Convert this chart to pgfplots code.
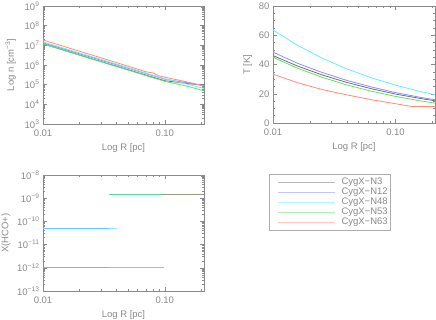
\documentclass[border=0pt]{standalone}
\usepackage{fontspec}
\setmainfont{Liberation Sans}
\usepackage{pgfplots}
\pgfplotsset{compat=1.18}
\definecolor{cN3}{HTML}{707070}
\definecolor{cN12}{HTML}{8C8CFF}
\definecolor{cN48}{HTML}{66EEFF}
\definecolor{cN53}{HTML}{66DD66}
\definecolor{cN63}{HTML}{FF8C7A}
\definecolor{txt}{HTML}{8A8A8A}
\definecolor{xTeal}{HTML}{5CD8A8}
\definecolor{xOlive}{HTML}{929F7E}
\definecolor{xCyanA}{HTML}{60D0FA}
\definecolor{xCyanB}{HTML}{98ECFF}
\definecolor{xTan}{HTML}{BFA878}
\definecolor{xSalmon}{HTML}{FF9E8A}
\pgfplotsset{
  mypanel/.style={
    scale only axis, anchor=south west,
    axis line style={txt, line width=0.6pt},
    tick style={txt, line width=0.5pt},
    major tick length=4pt, minor tick length=2pt,
    tick label style={font=\fontsize{9.5}{11}\selectfont, color=txt},
    label style={font=\fontsize{9.5}{11}\selectfont, color=txt},
    xticklabel style={yshift=-2.5pt},
    xmin=0.01, xmax=0.21,
    xtick={0.01,0.1}, xticklabels={0.01,0.10},
    minor xtick={0.02,0.03,0.04,0.05,0.06,0.07,0.08,0.09,0.2},
    xlabel={Log R [pc]},
  }
}
\begin{document}
\begin{tikzpicture}
\useasboundingbox (0,0) rectangle (436pt,319pt);
% Panel 1: density
\begin{axis}[xmode=log, ymode=log, mypanel, at={(43pt,195pt)}, width=161pt, height=118pt,
  ymin=1e3, ymax=1e9,
  ytick={1e3,1e4,1e5,1e6,1e7,1e8,1e9},
  yticklabels={10\textsuperscript{3},10\textsuperscript{4},10\textsuperscript{5},10\textsuperscript{6},10\textsuperscript{7},10\textsuperscript{8},10\textsuperscript{9}},
  ylabel={Log n [cm\textsuperscript{−3}]}, ylabel style={xshift=0pt,yshift=2pt}]
\addplot[cN3, line width=0.8pt] coordinates {(0.01,1.202e7) (0.0316,1.349e6) (0.1,1.585e5) (0.158,1.122e5) (0.21,9.333e4)};
\addplot[cN12, line width=0.8pt] coordinates {(0.01,1.349e7) (0.0316,1.585e6) (0.1,1.905e5) (0.158,1.202e5) (0.21,8.913e4)};
\addplot[cN48, line width=0.8pt] coordinates {(0.01,1.479e7) (0.0316,1.738e6) (0.1,1.995e5) (0.158,1.0e5) (0.21,6.457e4)};
\addplot[cN53, line width=0.8pt] coordinates {(0.01,1.175e7) (0.0316,1.318e6) (0.1,1.479e5) (0.158,7.943e4) (0.21,4.898e4)};
\addplot[cN63, line width=0.8pt] coordinates {(0.01,1.862e7) (0.0316,2.089e6) (0.0708,4.467e5) (0.0794,3.981e5) (0.0891,2.818e5) (0.1,2.399e5) (0.158,1.318e5) (0.21,8.511e4)};
\end{axis}
% Panel 2: temperature
\begin{axis}[xmode=log, mypanel, at={(273pt,196pt)}, width=162pt, height=117pt,
  ymin=0, ymax=80, ytick={0,20,40,60,80}, yticklabels={0,20,40,60,80},
  minor y tick num=3,
  ylabel={T [K]}]
\addplot[cN3, line width=0.8pt] coordinates {(0.01,46.1) (0.0158,39.0) (0.0251,32.9) (0.0398,27.8) (0.0631,23.5) (0.1,19.8) (0.158,16.8) (0.21,15.2)};
\addplot[cN12, line width=0.8pt] coordinates {(0.01,48.4) (0.0158,40.9) (0.0251,34.6) (0.0398,29.2) (0.0631,24.7) (0.1,20.8) (0.158,17.6) (0.21,15.9)};
\addplot[cN48, line width=0.8pt] coordinates {(0.01,63.6) (0.0158,53.2) (0.0251,44.4) (0.0398,37.1) (0.0631,31.0) (0.1,25.9) (0.158,21.6) (0.21,19.4)};
\addplot[cN53, line width=0.8pt] coordinates {(0.01,45.0) (0.0158,37.5) (0.0251,31.3) (0.0398,26.1) (0.0631,21.8) (0.1,18.2) (0.158,15.2) (0.21,13.6)};
\addplot[cN63, line width=0.8pt] coordinates {(0.01,33.4) (0.0158,27.6) (0.0251,22.9) (0.0398,19.3) (0.0631,16.0) (0.1,13.2) (0.135,11.3) (0.21,11.3)};
\end{axis}
% Panel 3: abundance
\begin{axis}[xmode=log, ymode=log, mypanel, at={(43pt,28pt)}, width=161pt, height=116pt,
  ymin=1e-13, ymax=1e-8,
  ytick={1e-13,1e-12,1e-11,1e-10,1e-9,1e-8},
  yticklabels={10\textsuperscript{−13},10\textsuperscript{−12},10\textsuperscript{−11},10\textsuperscript{−10},10\textsuperscript{−9},10\textsuperscript{−8}},
  ylabel={X(HCO+)}]
\addplot[xTeal, line width=1pt] coordinates {(0.0348,1.5e-9) (0.094,1.5e-9)};
\addplot[xOlive, line width=1pt] coordinates {(0.094,1.5e-9) (0.21,1.5e-9)};
\addplot[xCyanA, line width=1pt] coordinates {(0.01,5e-11) (0.0348,5e-11)};
\addplot[xCyanB, line width=1pt] coordinates {(0.0348,5e-11) (0.0405,5e-11)};
\addplot[xTan, line width=1pt] coordinates {(0.01,1e-12) (0.0348,1e-12)};
\addplot[xSalmon, line width=1pt] coordinates {(0.0348,1e-12) (0.0977,1e-12)};
\end{axis}
% Legend
\begin{axis}[at={(269pt,89pt)}, anchor=south west, width=123pt, height=56pt,
  scale only axis, hide axis, xmin=0, xmax=1, ymin=0, ymax=1,
  legend image code/.code={\path (0pt,0pt); \draw[#1, line width=0.8pt] (6pt,0pt) -- (63pt,0pt);},
  legend cell align=left,
  legend style={at={(0,1)}, anchor=north west, draw=txt!70, line width=0.6pt,
    font=\fontsize{9.5}{11}\selectfont, text=txt,
    inner xsep=2pt, inner ysep=3pt, column sep=6pt, row sep=0pt,
    nodes={inner sep=0.5pt, text height=7pt, text depth=2pt}}]
\addlegendimage{cN3!50}\addlegendentry{CygX−N3}
\addlegendimage{cN12!50}\addlegendentry{CygX−N12}
\addlegendimage{cN48!50}\addlegendentry{CygX−N48}
\addlegendimage{cN53!50}\addlegendentry{CygX−N53}
\addlegendimage{cN63!50}\addlegendentry{CygX−N63}
\end{axis}
\end{tikzpicture}
\end{document}
